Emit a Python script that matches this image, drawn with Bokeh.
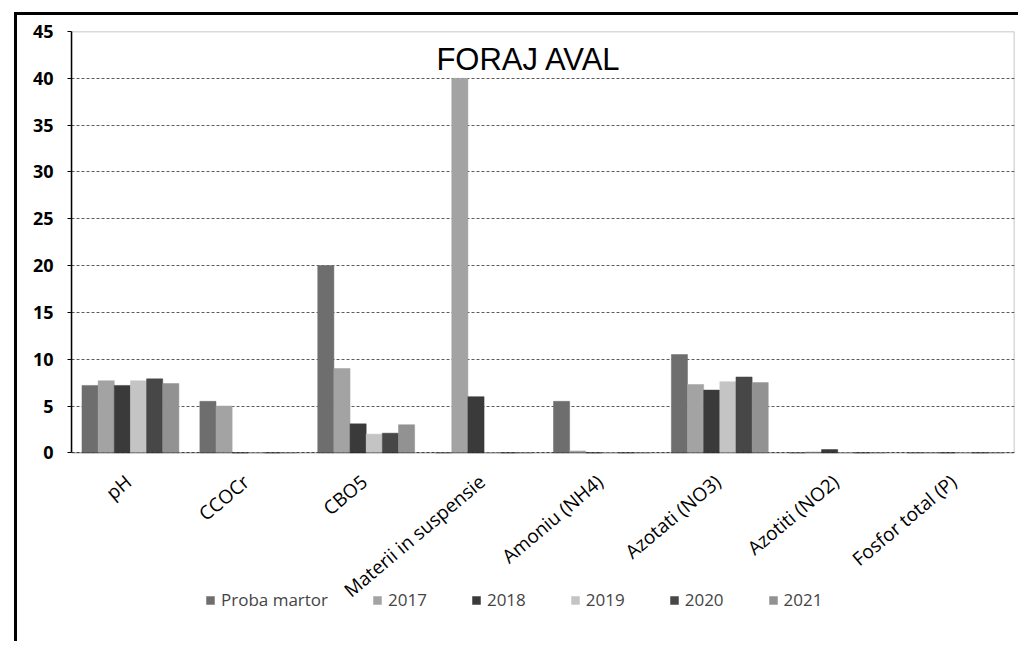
from bokeh.plotting import figure
from bokeh.models import (ColumnDataSource, Legend, LegendItem, Label, LabelSet,
                          FixedTicker, BoxAnnotation)
from bokeh.core.properties import value
from bokeh.transform import dodge
from bokeh.embed import file_html
from bokeh.resources import INLINE

categories = ["pH", "CCOCr", "CBO5", "Materii in suspensie", "Amoniu (NH4)",
              "Azotati (NO3)", "Azotiti (NO2)", "Fosfor total (P)"]
series_names = ["Proba martor", "2017", "2018", "2019", "2020", "2021"]
proba_martor = [7.2, 5.5, 20.0, 0.0, 5.5, 10.5, 0.0, 0.0]
y2017 = [7.7, 5.0, 9.0, 40.0, 0.2, 7.3, 0.1, 0.0]
y2018 = [7.2, 0.0, 3.1, 6.0, 0.0, 6.7, 0.35, 0.0]
y2019 = [7.7, 0.0, 2.0, 0.0, 0.0, 7.6, 0.0, 0.0]
y2020 = [7.9, 0.0, 2.1, 0.0, 0.0, 8.1, 0.0, 0.0]
y2021 = [7.4, 0.0, 3.0, 0.0, 0.0, 7.5, 0.0, 0.0]
y_ticks = [0, 5, 10, 15, 20, 25, 30, 35, 40, 45]
title_text = "FORAJ AVAL"

colors = ["#6e6e6e", "#a3a3a3", "#3a3a3a", "#c4c4c4", "#474747", "#929292"]
keys = ["pm", "y2017", "y2018", "y2019", "y2020", "y2021"]
source = ColumnDataSource(dict(cat=categories, pm=proba_martor, y2017=y2017,
                               y2018=y2018, y2019=y2019, y2020=y2020, y2021=y2021))

# the frame extends below zero to hold the rotated category labels and the legend
p = figure(x_range=categories, y_range=(-17.8, 45), frame_width=943, frame_height=588,
           output_backend="svg", toolbar_location=None,
           min_border_left=54, min_border_right=4, min_border_top=16, min_border_bottom=22)
p.styles = {"position": "relative", "left": "14px", "top": "12px",
            "border-left": "3px solid black", "border-top": "3px solid black"}

bw = 0.137
items = []
for i, (k, c, n) in enumerate(zip(keys, colors, series_names)):
    off = (i - 2.5) * bw
    r = p.vbar(x=dodge("cat", off, range=p.x_range), top=k, width=bw, source=source,
               fill_color=c, line_color=c, line_width=0.5)
    items.append(LegendItem(label=n, renderers=[r]))

p.outline_line_color = None
p.add_layout(BoxAnnotation(bottom=y_ticks[0], top=y_ticks[-1], left=0, right=len(categories),
                           fill_alpha=0, line_color="black", line_width=1.5))

p.yaxis.ticker = FixedTicker(ticks=y_ticks)
p.yaxis.bounds = (y_ticks[0], y_ticks[-1])
p.yaxis.major_label_text_font = "Open Sans"
p.yaxis.major_label_text_font_style = "bold"
p.yaxis.major_label_text_font_size = "18px"
p.yaxis.major_label_text_color = "black"
p.yaxis.axis_line_color = "black"
p.yaxis.axis_line_width = 1.5
p.yaxis.major_tick_line_color = "black"
p.yaxis.major_tick_out = 4
p.yaxis.major_tick_in = 0
p.yaxis.minor_tick_line_color = None
p.yaxis.major_label_standoff = 14

p.xaxis.visible = False

p.xgrid.grid_line_color = None
p.ygrid.ticker = FixedTicker(ticks=y_ticks)
p.ygrid.grid_line_color = "#333333"
p.ygrid.grid_line_dash = "3 2"
p.ygrid.grid_line_width = 0.8

p.add_layout(LabelSet(x="cat", y=0, text="cat", source=source, angle=0.70,
                      x_offset=-2, y_offset=-26, text_align="right",
                      text_baseline="middle", text_font=value("Open Sans"),
                      text_font_size=value("19px"), text_color="black"))

p.add_layout(Label(x=3.88, y=42.0, text=title_text, text_font="Liberation Sans",
                   text_font_size="31px", text_align="center", text_baseline="middle",
                   text_color="black"))

legend = Legend(items=items, orientation="horizontal", location=(134, 8),
                label_text_font="Open Sans", label_text_font_size="17px",
                glyph_width=10, glyph_height=10, spacing=44, label_standoff=6,
                border_line_color=None, background_fill_alpha=0, padding=4, margin=0)
p.add_layout(legend, "center")

open("out.html", "w").write(file_html(p, INLINE))
